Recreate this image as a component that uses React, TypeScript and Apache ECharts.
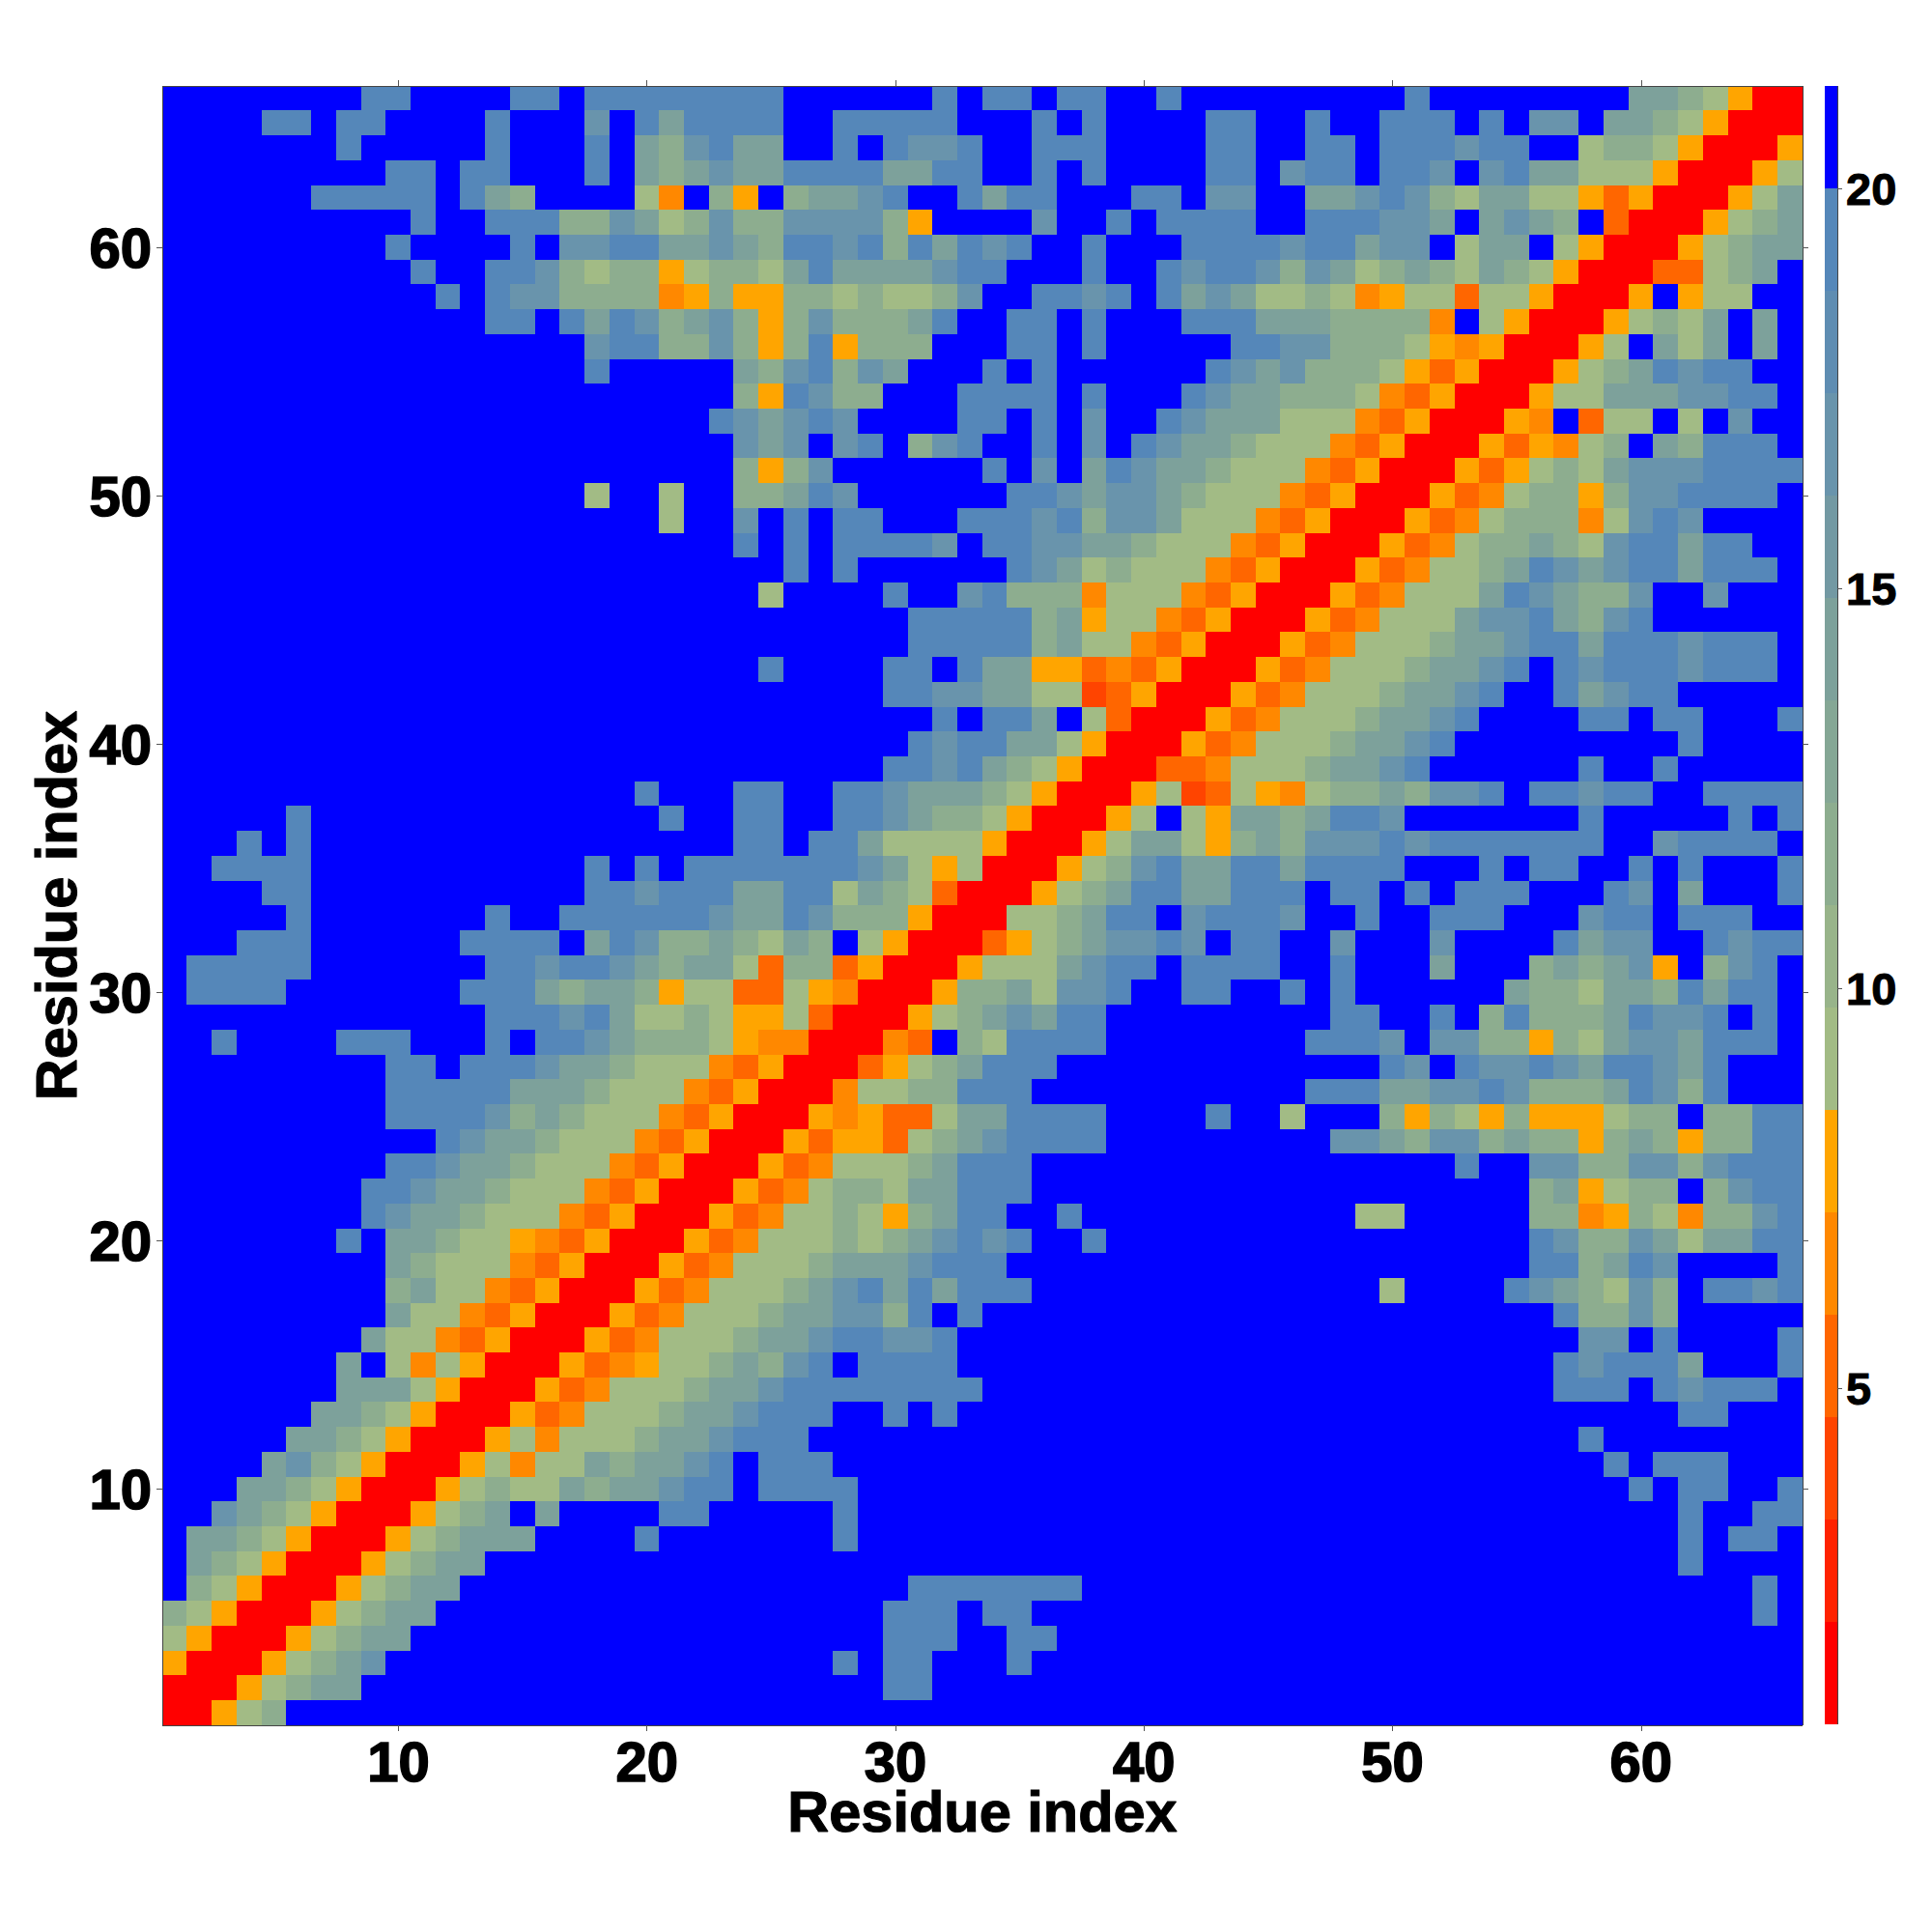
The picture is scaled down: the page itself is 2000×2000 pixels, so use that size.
import React, { useEffect, useRef } from "react";
import * as echarts from "echarts";

const B = "......................";
// One string per residue row, from y = 66 down to y = 1; each character is a colour-bar class.
const rowsTopDown: string[] = [
  "........ee....ee.eeeee|eee......e.ee.ee..e...|......e........ccbaYRR",
  "....ee.ee....e...d.ece|eee..eeeee...e.e....ee|..e..eee.e.dd.ccbaYRRR",
  ".......e.....e...e.cbd|ecc..e.edde..eee....ee|..ee.eeedee..abbaYRRRY",
  ".........ee.ee...e.cbc|dcceeeeccee..e.e....ee|.dee.eed.deccaaaYRRRYa",
  "......eeeee.ecb....aO.|bY.bccde..ecee...ee.dd|..ccdedbaccaaYoYRRRYac",
  "..........e..eeebbdcab|dbbddddbY....d..e.eeee|..eeeddc.cdcb.oRRRYabc",
  ".........e....e.ddeecc|dcbeedebecede..e...eee|edeecdd.acc.aYRRRYabcc",
  "..........e..eedbabbYa|bbaceccccdee...e..edee|dbdcabcbacbaYRRRooabc.",
  "...........e.eddbbbbOY|bYYbbabaabd..eede.ecdc|aabaOYaaoaaYRRRY.Yaa..",
  ".............ee.ecedbc|dbYbdbbbce..ee.e...eee|cccbbbbO.aYRRRYabac.c.",
  ".................deebb|dbYbeYbbb...ee.e.....e|eddbbbaYOYRRRYa.cac.c.",
  ".................e....|.cbdebdc...e.e......ed|cdbbbaYoYRRRYabcedee..",
  B + "|.bYedbb...eeee.e...edc|cbbbaOoYRRRYaacccddee.",
  B + "|edcded....ee.e.d..edcc|caaaOoYRRRYO.oaa.a.d..",
  B + "|.dcd.de.bde..e.d.edccb|aaaOoYRRRYoYOab.cbeee.",
  B + "|.bYbd......e.d.cedccba|aaOoYRRRYoYabacdddeeee",
  ".................a..a.|.bbced......eedcddcbaa|aOoYRRRYoOabbYbddeeee.",
  "....................a.|.d.e.ee...eeedebddcaaa|OoYRRRYoOabbbOaded....",
  B + "|.e.e.eeeed.eeddccbaaaO|oYRRRYoOabbcbadeecee..",
  B + "|...e.e......edcabaaaOo|YRRRYoOaabcedcdeeceee.",
  B + "|..a....e..debbbOaaaOoY|RRRYoOaaacedcbbd..d...",
  B + "|........eeeeebcYaaOoYR|RRYoOaaacddecbde......",
  B + "|........eeeeebcaaOoYRR|RYoOaaabccdeeceeedeee.",
  B + "|..e....ee.eccYYoOoYRRR|YoOaaabccde.edeeedeee.",
  B + "|.......eeddccaaqoYRRRY|oOaaabccde..ecdee.....",
  B + "|.........e.eec.aoRRRYo|Oaaabccde....ee.ee...e",
  B + "|........edeeccaYRRRYoO|aaabccde.........e....",
  B + "|.......eedecbaYRRRooOa|aabccde......e..e.....",
  "...................e..|.ee..eedcccbaYRRRYaqoa|YOabbcbdde.eedee..eeee",
  ".....e..............e.|.ee..eedcbbaYRRRYa.aYc|cbceed.......e.....e.e",
  "...e.e................|.ee.eecaaaaYRRRYaccaYb|cbdddedeeeeeee..deeee.",
  "..eeee...........e.e.e|eeeeeedcaYaRRRYabdecce|eceeee...e.ee..e.e...e",
  "....ee...........eedee|ecceeacbaoRRRYabceecce|ee.ee.e.eee...ed.c...e",
  ".....e.......e..eeeeee|dccedbbbYRRRaabcee.dee|ed..e..eee...dee.eee..",
  "...eee......eeee.cedbb|cbacb.aYRRRoYabcdded.e|e..d...d....ecdd..edee",
  ".eeeee.......eedeedcbc|caobboYRRRYaaacdee.eee|e..e...c...bcbcdY.bde.",
  ".eeee.......eeecbccbYa|aooaYORRRYbbcadde..ee.|.e.e......cbbaccbecee.",
  ".............eeedecaab|aYYaoRRRYabcdcee......|...ee..e.bebbbcedde.e.",
  "..e....eee...e.eedcbbb|aYOORRROo.baeeee......|..eeed.ddbbYbacddceee.",
  ".........ee.eeedccbaaa|OoYRRRoYabceee........|.....ed.eddedceedce...",
  ".........eeeeecccbaaaO|oYRRROaabbeee.........|..eeeccddedbbbcedbe...",
  ".........eeeedbcbaaaOo|YRRRYOYooacceeee....e.|.a...bYbaYbYYYabb.bbee",
  "...........edccbaaaOoY|RRRYoYYoabcdeeee......|...ddcbddbcbbYbcbYbbee",
  ".........eedccbaaaOoYR|RRYoOaaabceee.........|........e..ddbbddbdeee",
  "........eedccbaaaOoYRR|RYoOabbacceee.........|...........bcYabb.bdee",
  "........edccbaaaOoYRRR|YoOaabaYbcee..e.......|....aa.....bbOYbaObbde",
  ".......e.ccbaaYOoYRRRY|oOaaababcdede..e......|...........edbbdcaccee",
  ".........cbaaaOoYRRRYo|Oaaabcccdeee..........|...........eebced....e",
  ".........bcaaOoYRRRYoO|aaabcdececeee.........|.....a....edcbadb.eede",
  ".........caaOoYRRRYoOa|aabccddbe.e...........|............ebbdb.....",
  "........caaOoYRRRYoOaa|abccdeedde............|.............dd.e....e",
  ".......c.aOaYRRRYoOYaa|bcbde.eeee............|............edeeec...e",
  ".......cccaYRRRYoOaaab|ccdeeeeeeee...........|............eee.edeee.",
  "......ccbaYRRRYoOaaabc|cdeee..e.e............|.................ee...",
  ".....ccbaYRRRYaOaaabcc|deee..................|.............e........",
  "....cdbaYRRRYaOaacbccd|e.eee.................|..............e.eee...",
  "...ccbaYRRRYabaacbccde|e.eeee................|...............e.ee..e",
  "..dcbaYRRRYabc.c....ee|.....e................|.................e..ee",
  ".ccbaYRRRYabccc....e..|.....e................|.................e.ee.",
  ".cbaYRRRYabcc.........|" + B + "|.................e....",
  ".baYRRRYabcc..........|........eeeeeee.......|....................e.",
  "baYRRRYabcc...........|.......eee.ee.........|....................e.",
  "aYRRRYabcc............|.......eee..ee........|" + B,
  "YRRRYabcd.............|.....e.ee...e.........|" + B,
  "RRRYabcc..............|.......ee.............|" + B,
  "RRYab.................|" + B + "|" + B,
];

// Distance value read for each class (centre of its colour-bar step).
const classValues: Record<string, number> = {
  R: 1.44, q: 4.0, o: 5.28, O: 6.56, Y: 7.84,
  a: 9.12, b: 11.68, c: 14.24, d: 16.8, e: 19.36, ".": 20.64,
};

const residues: string[] = Array.from({ length: 66 }, (_, i) => String(i + 1));
const barEdges: number[] = [0.8, 2.08, 3.36, 4.64, 5.92, 7.2, 8.48, 9.76, 11.04, 12.32, 13.6, 14.88, 16.16, 17.44, 18.72, 20, 21.28];
const barColors: string[] = [
  "#ff0000", "#ff2200", "#ff4400", "#ff6600", "#ff8800", "#ffa500",
  "#a2bb85", "#98b48a", "#8dad8f", "#85a795", "#7da19b", "#7399a3",
  "#6994ac", "#5f8db2", "#5587b9", "#0000ff",
];
const colorTicks: number[] = [5, 10, 15, 20];

const FONT = "Liberation Sans";
const TICK = "#555555";

export default function App() {
  const ref = useRef<HTMLDivElement>(null);
  useEffect(() => {
    const chart = echarts.init(ref.current!, undefined, { renderer: "svg" });
    const data: number[][] = [];
    rowsTopDown.forEach((row, r) => {
      const cells = row.replace(/\|/g, "");
      for (let c = 0; c < 66; c++) {
        data.push([c, 65 - r, classValues[cells[c] ?? "."] ?? 20.64]);
      }
    });
    const every10 = (i: number) => (i + 1) % 10 === 0;
    const mainLabel = {
      fontFamily: FONT, fontWeight: "bold" as const, fontSize: 58, color: "#000",
      textBorderColor: "#000", textBorderWidth: 1.6,
    };
    const nameStyle = {
      fontFamily: FONT, fontWeight: "bold" as const, fontSize: 59.5, color: "#000",
      textBorderColor: "#000", textBorderWidth: 1.2,
    };
    const line = { show: true, lineStyle: { color: "#444", width: 1 } };
    const tick = { show: true, interval: every10, alignWithLabel: true, length: 6, lineStyle: { color: TICK, width: 1 } };
    const colorSeries = barColors.map((color, k) => ({
      type: "bar" as const,
      xAxisIndex: 2,
      yAxisIndex: 2,
      stack: "bar",
      barWidth: "100%",
      silent: true,
      itemStyle: { color },
      data: [k === 0 ? barEdges[1] : barEdges[k + 1] - barEdges[k]],
    }));
    chart.setOption({
      animation: false,
      backgroundColor: "#fff",
      grid: [
        { left: 168, top: 89, width: 1698, height: 1697 },
        { left: 1889, top: 89, width: 13, height: 1696 },
      ],
      xAxis: [
        {
          type: "category", gridIndex: 0, data: residues, position: "bottom", z: 5,
          axisLine: line, axisTick: tick,
          axisLabel: { ...mainLabel, interval: every10, margin: 14, lineHeight: 46 },
          name: "Residue index", nameLocation: "middle", nameGap: 66, nameMoveOverlap: false,
          nameTextStyle: { ...nameStyle, lineHeight: 46 },
          splitLine: { show: false },
        },
        {
          type: "category", gridIndex: 0, data: residues, position: "top", z: 5,
          axisLine: line, axisTick: tick, axisLabel: { show: false }, splitLine: { show: false },
        },
        {
          type: "category", gridIndex: 1, data: [""], position: "bottom",
          axisLine: { show: false }, axisTick: { show: false }, axisLabel: { show: false },
        },
      ],
      yAxis: [
        {
          type: "category", gridIndex: 0, data: residues, position: "left", z: 5,
          axisLine: line, axisTick: tick,
          axisLabel: { ...mainLabel, interval: every10, margin: 11 },
          name: "Residue index", nameLocation: "middle", nameGap: 80, nameMoveOverlap: false, nameTextStyle: nameStyle,
          splitLine: { show: false },
        },
        {
          type: "category", gridIndex: 0, data: residues, position: "right", z: 5,
          axisLine: line, axisTick: tick, axisLabel: { show: false }, splitLine: { show: false },
        },
        {
          type: "value", gridIndex: 1, min: 0.8, max: 21.28, position: "right", z: 5,
          axisLine: line,
          axisTick: { show: true, length: 5, customValues: colorTicks, lineStyle: { color: TICK, width: 1 } },
          axisLabel: {
            fontFamily: FONT, fontWeight: "bold", fontSize: 47, color: "#000", margin: 9,
            textBorderColor: "#000", textBorderWidth: 1, customValues: colorTicks,
          },
          splitLine: { show: false },
        },
      ],
      visualMap: {
        type: "piecewise",
        show: false,
        seriesIndex: 0,
        dimension: 2,
        pieces: barColors.map((color, k) => ({ gte: barEdges[k], lt: barEdges[k + 1], color })),
      },
      series: [
        {
          type: "heatmap",
          xAxisIndex: 0,
          yAxisIndex: 0,
          data,
          silent: true,
          itemStyle: { borderWidth: 0 },
          emphasis: { disabled: true },
          progressive: 0,
        },
        ...colorSeries,
      ],
    });
    return () => chart.dispose();
  }, []);
  return (
    <div
      ref={ref}
      style={{ position: "absolute", left: 0, top: 0, width: 2000, height: 2000, shapeRendering: "crispEdges" }}
    />
  );
}
